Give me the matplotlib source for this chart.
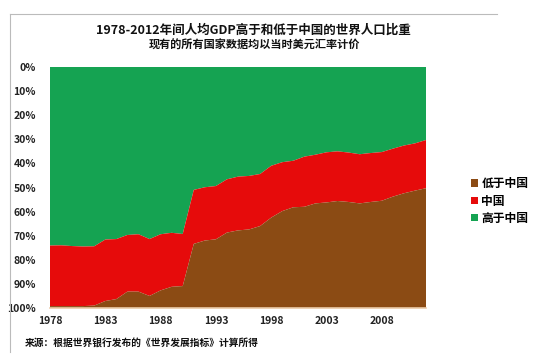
import matplotlib
matplotlib.use("Agg")
import matplotlib.pyplot as plt
from matplotlib.patches import Patch
from matplotlib.lines import Line2D

plt.rcParams['font.family'] = ['Noto Sans CJK SC', 'DejaVu Sans']

years = list(range(1978, 2013))
higher = [74.1, 74.0, 74.3, 74.5, 74.4, 71.6, 71.4, 69.7, 69.4, 71.4,
          69.4, 68.8, 69.3, 51.0, 49.9, 49.4, 46.6, 45.5, 45.2, 44.4,
          41.0, 39.5, 38.9, 37.2, 36.4, 35.4, 35.0, 35.5, 36.2, 35.7,
          35.3, 33.9, 32.6, 31.7, 30.3]
china = [25.1, 25.2, 24.9, 24.7, 24.6, 25.5, 24.9, 23.5, 23.8, 23.6,
         23.3, 22.4, 21.6, 22.4, 22.1, 22.1, 22.1, 22.3, 22.2, 21.6,
         21.5, 20.3, 19.3, 20.8, 20.2, 20.8, 20.6, 20.5, 20.4, 20.3,
         20.2, 19.9, 19.8, 19.6, 20.0]
lower = [0.8, 0.8, 0.8, 0.8, 1.0, 2.9, 3.7, 6.8, 6.8, 5.0,
         7.3, 8.8, 9.1, 26.6, 28.0, 28.5, 31.3, 32.2, 32.6, 34.0,
         37.5, 40.2, 41.8, 42.0, 43.4, 43.8, 44.4, 44.0, 43.4, 44.0,
         44.5, 46.2, 47.6, 48.7, 49.7]

series_names = ['高于中国', '中国', '低于中国']
colors = {'高于中国': '#15A352', '中国': '#E60B0B', '低于中国': '#8B4B14'}
xtick_years = [1978, 1983, 1988, 1993, 1998, 2003, 2008]
ytick_vals = list(range(0, 101, 10))
title1 = '1978-2012年间人均GDP高于和低于中国的世界人口比重'
title2 = '现有的所有国家数据均以当时美元汇率计价'
source = '来源：根据世界银行发布的《世界发展指标》计算所得'

fig = plt.figure(figsize=(5.5, 3.62), dpi=100)
ax = fig.add_axes([50/550, 1 - 308/362, (426-50)/550, (308-67)/362])

ax.stackplot(years, higher, china, lower,
             colors=[colors[n] for n in series_names], linewidth=0)
ax.set_xlim(1978, 2012)
ax.set_ylim(100, 0)
ax.set_yticks(ytick_vals)
ax.set_yticklabels([f'{v}%' for v in ytick_vals], fontsize=7.5,
                   fontweight='bold', color='#222222')
ax.set_xticks(xtick_years)
ax.set_xticklabels([str(y) for y in xtick_years], fontsize=7.5,
                   fontweight='bold', color='#222222')
ax.tick_params(length=0, pad=6)
ax.tick_params(axis='y', pad=10)
for s in ['top', 'right', 'left']:
    ax.spines[s].set_visible(False)
ax.spines['bottom'].set_color('#EBCBA8')
ax.spines['bottom'].set_linewidth(1.2)

fig.text(253/550, 1 - 30/362, title1, ha='center', va='center',
         fontsize=9, fontweight='bold', color='#111111')
fig.text(254/550, 1 - 45/362, title2, ha='center', va='center',
         fontsize=8, fontweight='bold', color='#111111')
fig.text(25/550, 1 - 343/362, source, ha='left', va='center',
         fontsize=7, fontweight='bold', color='#111111')

# outer frame lines
fig.add_artist(Line2D([10/550, 497/550], [1 - 14/362, 1 - 14/362],
                      color='#BBBBBB', linewidth=0.8, transform=fig.transFigure))
fig.add_artist(Line2D([10/550, 10/550], [1 - 14/362, 1 - 352/362],
                      color='#BBBBBB', linewidth=0.8, transform=fig.transFigure))

handles = [Patch(facecolor=colors[n], edgecolor='none') for n in reversed(series_names)]
leg = fig.legend(handles, list(reversed(series_names)), loc='center left',
                 bbox_to_anchor=(460/550, 1 - 201/362), frameon=False,
                 handlelength=0.6, handleheight=0.6, handletextpad=0.3,
                 labelspacing=0.35, prop={'size': 8.5, 'weight': 'bold'})

fig.savefig('out.png', dpi=100)
